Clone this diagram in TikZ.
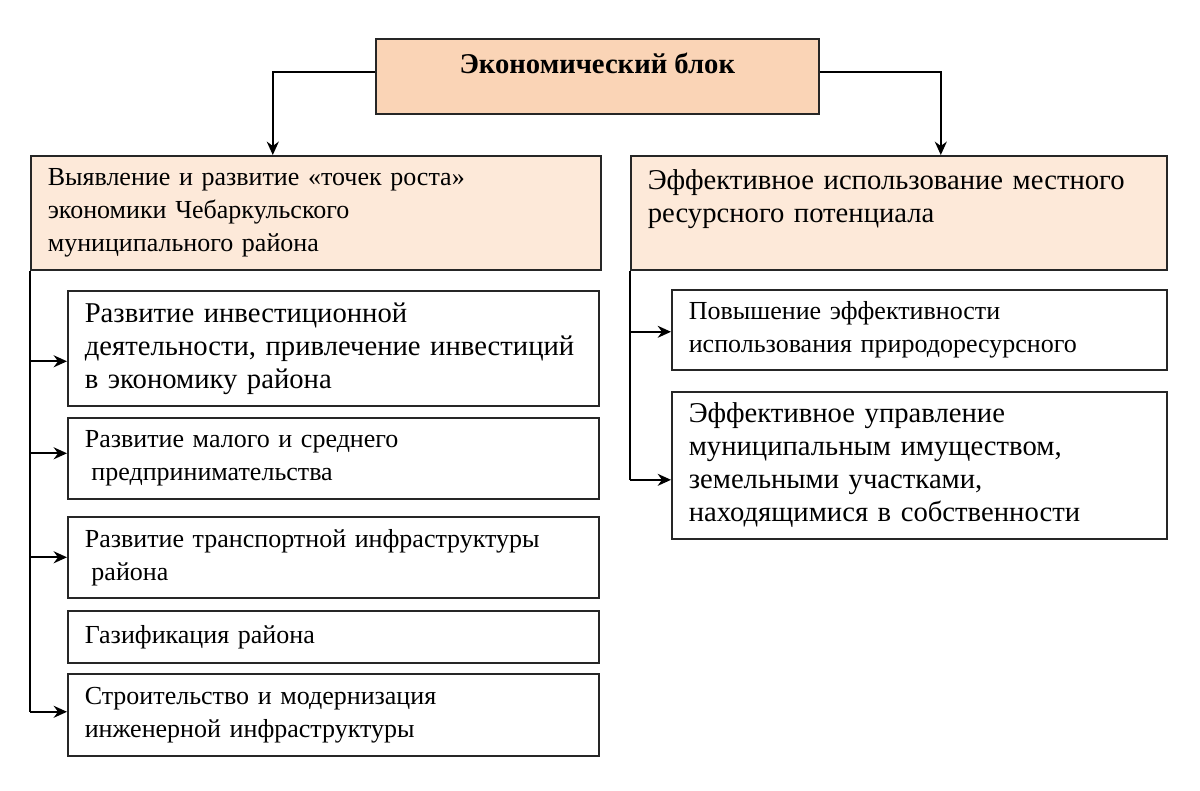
\documentclass[tikz,border=0pt]{standalone}
\usepackage{fontspec}
\setmainfont{Liberation Serif}
\usetikzlibrary{arrows.meta}
\definecolor{blokfill}{RGB}{250,212,182}
\definecolor{headfill}{RGB}{253,233,217}
\begin{document}
\begin{tikzpicture}[x=0.75pt,y=-0.75pt,font=\fontsize{19.5}{24.75}\selectfont,
  box/.style={draw=black!85, line width=1.2pt, anchor=north west, align=left, inner xsep=12.75pt, inner ysep=0pt},
  big/.style={font=\fontsize{21.5}{24.75}\selectfont},
  head/.style={box, fill=headfill, minimum height=85.5pt},
  sub/.style={box, text width=372.75pt},
  rsub/.style={box, text width=345.75pt},
  link/.style={line width=1.5pt, -{Stealth[length=10pt,width=9pt]}}]
\useasboundingbox (0,0) rectangle (1200,791);

\node[box,big,fill=blokfill,align=center,inner xsep=0pt,minimum width=332.25pt,text height=26.25pt,text depth=30pt] (eco) at(375,38){\textbf{Экономический блок}};

\node[head,text width=402pt] (lh) at(30,155){Выявление и развитие «точек роста»\\экономики Чебаркульского\\муниципального района};
\node[head,big,text width=376.5pt] (rh) at(630,155){Эффективное использование местного\\ресурсного потенциала\\~};

% left column
\node[sub,big,minimum height=86.25pt] (b1) at(67,290){Развитие инвестиционной\\деятельности, привлечение инвестиций\\в экономику района};
\node[sub,minimum height=60.75pt] (b2) at(67,417){Развитие малого и среднего\\\hspace*{5pt}предпринимательства};
\node[sub,minimum height=60.75pt] (b3) at(67,516){Развитие транспортной инфраструктуры\\\hspace*{5pt}района};
\node[sub,minimum height=39pt] (b4) at(67,610){Газификация района};
\node[sub,minimum height=61.5pt] (b5) at(67,673){Строительство и модернизация\\инженерной инфраструктуры};

% right column
\node[rsub,minimum height=60pt] (r1) at(671,289){Повышение эффективности\\использования природоресурсного};
\node[rsub,big,minimum height=110.25pt] (r2) at(671,391){Эффективное управление\\муниципальным имуществом,\\земельными участками,\\находящимися в собственности};

\draw[link] ([yshift=3.4pt]eco.west) -| ([xshift=-32.25pt]lh.north);
\draw[link] ([yshift=3.4pt]eco.east) -| ([xshift=31.5pt]rh.north);

\draw[line width=1.5pt] (lh.south west) -- ([yshift=2.25pt]lh.south west |- b5.west);
\foreach \b/\d in {b1/-9.75,b2/3.75,b3/0,b5/2.25}
  \draw[link] ([yshift=\d pt]lh.south west |- \b.west) -- ([yshift=\d pt]\b.west);

\draw[line width=1.5pt] (rh.south west) -- ([yshift=-10.9pt]rh.south west |- r2.west);
\foreach \b/\d in {r1/-1.5,r2/-10.9}
  \draw[link] ([yshift=\d pt]rh.south west |- \b.west) -- ([yshift=\d pt]\b.west);
\end{tikzpicture}
\end{document}
